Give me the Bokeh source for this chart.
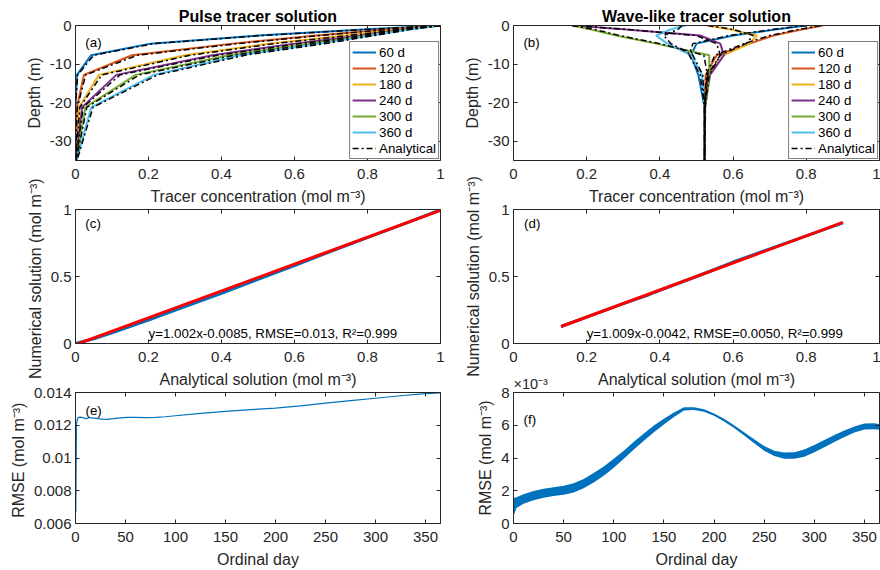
from bokeh.plotting import figure
from bokeh.layouts import row, column
from bokeh.models import (Range1d, FixedTicker, PrintfTickFormatter, LinearAxis,
                          Legend, LegendItem, Label)
from bokeh.embed import file_html
from bokeh.resources import INLINE

FONT = "Liberation Sans"
INK = "#262626"

# ---------------- data ----------------
depth_nodes = [0.0, -1.0, -2.6, -4.7, -7.7, -12.8, -21.2, -35.0]
time_labels = ["60 d", "120 d", "180 d", "240 d", "300 d", "360 d"]
line_colors = ["#0072BD", "#D95319", "#EDB120", "#7E2F8E", "#77AC30", "#4DBEEE"]

# (a) pulse tracer, numerical
pulse_num_060 = [1.0, 0.80, 0.50, 0.205, 0.043, 0.004, 0.000, 0.000]
pulse_num_120 = [1.0, 0.86, 0.66, 0.430, 0.155, 0.023, 0.004, 0.000]
pulse_num_180 = [1.0, 0.89, 0.74, 0.530, 0.300, 0.064, 0.010, 0.000]
pulse_num_240 = [1.0, 0.90, 0.78, 0.600, 0.375, 0.112, 0.018, 0.001]
pulse_num_300 = [1.0, 0.91, 0.80, 0.640, 0.420, 0.165, 0.027, 0.002]
pulse_num_360 = [1.0, 0.92, 0.81, 0.670, 0.450, 0.215, 0.043, 0.003]
# (a) pulse tracer, analytical
pulse_ana_060 = [1.0, 0.80, 0.51, 0.215, 0.050, 0.006, 0.000, 0.000]
pulse_ana_120 = [1.0, 0.86, 0.67, 0.445, 0.170, 0.028, 0.005, 0.000]
pulse_ana_180 = [1.0, 0.89, 0.75, 0.545, 0.315, 0.072, 0.012, 0.000]
pulse_ana_240 = [1.0, 0.90, 0.79, 0.615, 0.390, 0.122, 0.021, 0.001]
pulse_ana_300 = [1.0, 0.91, 0.81, 0.655, 0.435, 0.175, 0.031, 0.002]
pulse_ana_360 = [1.0, 0.92, 0.82, 0.685, 0.465, 0.225, 0.048, 0.004]

# (b) wave-like tracer, numerical
wave_num_060 = [0.80, 0.72, 0.60, 0.500, 0.485, 0.505, 0.522, 0.522]
wave_num_120 = [0.845, 0.79, 0.71, 0.645, 0.555, 0.525, 0.522, 0.522]
wave_num_180 = [0.53, 0.59, 0.665, 0.645, 0.575, 0.532, 0.522, 0.522]
wave_num_240 = [0.16, 0.30, 0.51, 0.565, 0.575, 0.537, 0.523, 0.522]
wave_num_300 = [0.16, 0.21, 0.28, 0.390, 0.535, 0.535, 0.524, 0.522]
wave_num_360 = [0.47, 0.43, 0.39, 0.420, 0.485, 0.515, 0.522, 0.522]
# (b) wave-like tracer, analytical
wave_ana_060 = [0.80, 0.71, 0.59, 0.490, 0.480, 0.510, 0.522, 0.522]
wave_ana_120 = [0.84, 0.78, 0.70, 0.630, 0.550, 0.527, 0.522, 0.522]
wave_ana_180 = [0.53, 0.60, 0.655, 0.635, 0.565, 0.530, 0.522, 0.522]
wave_ana_240 = [0.16, 0.31, 0.50, 0.555, 0.565, 0.535, 0.523, 0.522]
wave_ana_300 = [0.16, 0.22, 0.29, 0.400, 0.520, 0.530, 0.524, 0.522]
wave_ana_360 = [0.46, 0.45, 0.41, 0.430, 0.490, 0.517, 0.522, 0.522]

# (c) numerical vs analytical, pulse
scatter_c_ana = [0.0, 0.05, 0.10, 0.20, 0.30, 0.40, 0.50, 0.60, 0.70, 0.80, 0.90, 1.00]
scatter_c_num = [0.0, 0.035, 0.080, 0.175, 0.275, 0.375, 0.478, 0.582, 0.688, 0.790, 0.893, 0.998]
fit_c_x = [0.0, 1.0]
fit_c_y = [-0.0085, 0.9935]
fit_c_text = "y=1.002x-0.0085, RMSE=0.013, R²=0.999"

# (d) numerical vs analytical, wave
scatter_d_ana = [0.13, 0.20, 0.30, 0.37, 0.42, 0.50, 0.60, 0.70, 0.80, 0.90]
scatter_d_num = [0.127, 0.197, 0.298, 0.364, 0.418, 0.500, 0.608, 0.706, 0.803, 0.900]
fit_d_x = [0.13, 0.90]
fit_d_y = [0.127, 0.904]
fit_d_text = "y=1.009x-0.0042, RMSE=0.0050, R²=0.999"

# (e) RMSE, pulse
rmse_e_day = [0.3, 1, 2, 3, 5, 8, 11, 14, 18, 22, 27, 32, 38, 45, 52, 60, 70, 80, 90,
              100, 125, 150, 175, 200, 225, 250, 275, 300, 325, 350, 365]
rmse_e_val = [0.0067, 0.0121, 0.0124, 0.01248, 0.0125, 0.01245, 0.0124, 0.01247, 0.01244,
              0.0124, 0.01237, 0.01236, 0.0124, 0.01245, 0.01248, 0.01248, 0.01247, 0.01248,
              0.01252, 0.01258, 0.01272, 0.01285, 0.01295, 0.01305, 0.01318, 0.01335,
              0.0135, 0.01365, 0.0138, 0.01393, 0.01398]

# (f) RMSE, wave (units of 1e-3), daily oscillation envelope
rmse_f_day = [0, 3, 10, 20, 30, 40, 50, 60, 70, 80, 90, 100, 110, 120, 130, 140, 150, 160,
              170, 180, 190, 200, 210, 220, 230, 240, 250, 260, 270, 280, 290, 300, 310,
              320, 330, 340, 350, 360, 365]
rmse_f_low = [0.45, 0.95, 1.20, 1.42, 1.58, 1.68, 1.76, 1.90, 2.15, 2.50, 2.92, 3.40, 3.95,
              4.52, 5.05, 5.58, 6.05, 6.50, 6.90, 6.93, 6.83, 6.58, 6.23, 5.83, 5.38, 4.90,
              4.45, 4.12, 3.95, 3.95, 4.08, 4.35, 4.65, 4.97, 5.28, 5.55, 5.74, 5.76, 5.72]
rmse_f_high = [1.55, 1.60, 1.78, 1.98, 2.12, 2.22, 2.30, 2.46, 2.72, 3.08, 3.48, 3.95, 4.45,
               5.00, 5.50, 5.98, 6.40, 6.78, 7.10, 7.10, 6.97, 6.72, 6.39, 6.00, 5.58, 5.14,
               4.73, 4.44, 4.33, 4.35, 4.52, 4.80, 5.10, 5.40, 5.68, 5.93, 6.10, 6.12, 6.06]

ticks_conc = [0, 0.2, 0.4, 0.6, 0.8, 1]
ticks_depth = [-30, -20, -10, 0]
ticks_half = [0, 0.5, 1]
ticks_day = [0, 50, 100, 150, 200, 250, 300, 350]
ticks_rmse_e = [0.006, 0.008, 0.01, 0.012, 0.014]
ticks_rmse_f = [0, 2, 4, 6, 8]

DASHDOT = "6 3 2 3"


def style_axis(ax, ticks, label=None, show=True, standoff=4, label_standoff=4):
    ax.ticker = FixedTicker(ticks=ticks)
    ax.formatter = PrintfTickFormatter(format="%g")
    ax.axis_line_color = INK
    ax.axis_line_width = 1
    ax.major_tick_line_color = INK
    ax.major_tick_in = 4
    ax.major_tick_out = 0
    ax.minor_tick_line_color = None
    ax.major_label_text_font = FONT
    if show:
        ax.major_label_text_font_size = "15px"
        ax.major_label_text_color = INK
        ax.major_label_standoff = standoff
    else:
        # mirrored box axis: tick marks only, labels never drawn
        ax.major_label_text_font_size = "1px"
        ax.major_label_text_color = None
        ax.major_label_standoff = 0
    if label:
        ax.axis_label = label
        ax.axis_label_text_font = FONT
        ax.axis_label_text_font_size = "16px"
        ax.axis_label_text_font_style = "normal"
        ax.axis_label_text_color = INK
        ax.axis_label_standoff = label_standoff


def make_fig(width, height, xr, yr, borders, xticks, yticks, xlabel, ylabel,
             title="", title_size="16px", title_bold=True, title_align="center",
             title_standoff=2):
    l, r, t, b = borders
    p = figure(width=width, height=height, x_range=Range1d(*xr), y_range=Range1d(*yr),
               output_backend="svg", toolbar_location=None, title=title,
               min_border_left=l, min_border_right=r, min_border_top=t, min_border_bottom=b)
    p.title.align = title_align
    p.title.text_font = FONT
    p.title.text_font_size = title_size
    p.title.text_font_style = "bold" if title_bold else "normal"
    p.title.text_color = "black" if title_bold else INK
    p.title.standoff = title_standoff
    p.title.offset = 0
    p.xgrid.visible = False
    p.ygrid.visible = False
    p.outline_line_color = None
    p.border_fill_color = None
    p.background_fill_color = "white"
    style_axis(p.xaxis[0], xticks, xlabel, standoff=8, label_standoff=6)
    style_axis(p.yaxis[0], yticks, ylabel, standoff=4, label_standoff=4)
    top = LinearAxis()
    style_axis(top, xticks, None, show=False)
    p.add_layout(top, "above")
    right = LinearAxis()
    style_axis(right, yticks, None, show=False)
    p.add_layout(right, "right")
    return p


def add_text(p, x, y, text, size="13.3px"):
    p.add_layout(Label(x=x, y=y, text=text, text_font=FONT, text_font_size=size,
                       text_align="left", text_baseline="middle", text_color="black"))


def profile_panel(p, nums, anas, tag):
    items = []
    for lab, col, vals in zip(time_labels, line_colors, nums):
        r = p.line(vals, depth_nodes, line_color=col, line_width=2)
        items.append(LegendItem(label=lab, renderers=[r]))
    black = []
    for vals in anas:
        black.append(p.line(vals, depth_nodes, line_color="black", line_width=1.5,
                            line_dash=DASHDOT))
    items.append(LegendItem(label="Analytical", renderers=[black[0]]))
    leg = Legend(items=items, location="bottom_right", margin=1, padding=2, spacing=0,
                 glyph_width=24, glyph_height=16, label_height=16, label_standoff=3,
                 label_text_font=FONT, label_text_font_size="13.3px",
                 label_text_color="black", border_line_color="black",
                 border_line_width=1, background_fill_color="white",
                 background_fill_alpha=1)
    p.add_layout(leg)
    add_text(p, 0.027, -4.3, tag)


# column widths: left 448, right 432 ; rows overlap through negative margins
# ---------------- row 1 ----------------
CONC_LABEL = "Tracer concentration (mol m⁻³)"
pa = make_fig(448, 210, (0, 1), (-35, 0), (75, 8, 25, 50), ticks_conc, ticks_depth,
              CONC_LABEL, "Depth (m)", title="Pulse tracer solution")
profile_panel(pa, [pulse_num_060, pulse_num_120, pulse_num_180, pulse_num_240,
                   pulse_num_300, pulse_num_360],
              [pulse_ana_060, pulse_ana_120, pulse_ana_180, pulse_ana_240,
               pulse_ana_300, pulse_ana_360], "(a)")

pb = make_fig(432, 210, (0, 1), (-35, 0), (65, 1, 25, 50), ticks_conc, ticks_depth,
              CONC_LABEL, "Depth (m)", title="Wave-like tracer solution")
profile_panel(pb, [wave_num_060, wave_num_120, wave_num_180, wave_num_240,
                   wave_num_300, wave_num_360],
              [wave_ana_060, wave_ana_120, wave_ana_180, wave_ana_240,
               wave_ana_300, wave_ana_360], "(b)")

# ---------------- row 2 ----------------
ANA_LABEL = "Analytical solution (mol m⁻³)"
pc = make_fig(448, 235, (0, 1), (0, 1), (75, 8, 51, 50), ticks_conc, ticks_half,
              ANA_LABEL, "Numerical  solution (mol m⁻³)")
pc.line(scatter_c_ana, scatter_c_num, line_color="#0072BD", line_width=3)
pc.line(fit_c_x, fit_c_y, line_color="#FF0000", line_width=3)
add_text(pc, 0.027, 0.893, "(c)")
add_text(pc, 0.2, 0.075, fit_c_text)

pd_ = make_fig(432, 235, (0, 1), (0, 1), (65, 1, 51, 50), ticks_conc, ticks_half,
               ANA_LABEL, "Numerical solution (mol m⁻³)")
pd_.line(scatter_d_ana, scatter_d_num, line_color="#0072BD", line_width=3)
pd_.line(fit_d_x, fit_d_y, line_color="#FF0000", line_width=3)
add_text(pd_, 0.029, 0.893, "(d)")
add_text(pd_, 0.2, 0.075, fit_d_text)

# ---------------- row 3 ----------------
pe = make_fig(448, 202, (0, 365), (0.006, 0.014), (75, 8, 24, 44), ticks_day, ticks_rmse_e,
              "Ordinal day", "RMSE  (mol m⁻³)")
pe.line(rmse_e_day, rmse_e_val, line_color="#0072BD", line_width=1.2)
add_text(pe, 10, 0.01292, "(e)")

pf = make_fig(432, 202, (0, 365), (0, 8), (65, 1, 24, 44), ticks_day, ticks_rmse_f,
              "Ordinal day", "RMSE (mol m⁻³)", title="×10⁻³", title_size="14.5px",
              title_bold=False, title_align="left", title_standoff=1)
pf.varea(x=rmse_f_day, y1=rmse_f_low, y2=rmse_f_high, fill_color="#0072BD")
add_text(pf, 10, 6.34, "(f)")

r1 = row(pa, pb)
r2 = row(pc, pd_, styles={"margin-top": "-52px"})
r3 = row(pe, pf, styles={"margin-top": "-25px"})
layout = column(r1, r2, r3)

open("out.html", "w").write(file_html(layout, INLINE))
